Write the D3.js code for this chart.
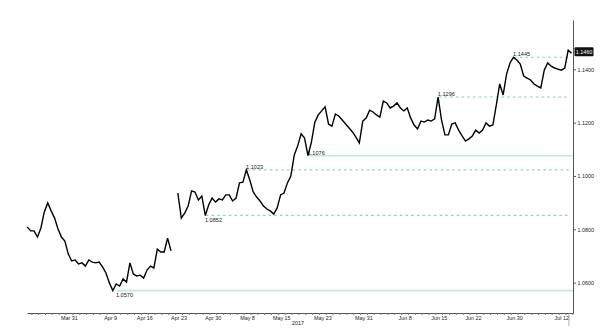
<!DOCTYPE html>
<html>
<head>
<meta charset="utf-8">
<script src="https://cdn.jsdelivr.net/npm/d3@7"></script>
<style>
body { margin: 0; background: #fff; }
svg { display: block; font-family: "Liberation Sans", Arial, sans-serif; }
</style>
</head>
<body>
<div id="chart"></div>
<script>
// EUR/USD, half-day samples on a business-day axis (weekends removed)
const seriesStart = "2017-03-23";
const startOffset = 0.4;   // business days into the first session
const stepDays = 0.5;
const prices = [
  1.0809, 1.0794, 1.0794, 1.0771, 1.0805, 1.0865, 1.0899, 1.0869, 1.0842, 1.0801,
  1.0771, 1.0756, 1.0707, 1.0681, 1.0685, 1.0670, 1.0674, 1.0662, 1.0685, 1.0677,
  1.0674, 1.0677, 1.0659, 1.0636, 1.0599, 1.0570, 1.0595, 1.0587, 1.0614, 1.0602,
  1.0674, 1.0632, 1.0625, 1.0628, 1.0617, 1.0647, 1.0662, 1.0655, 1.0726, 1.0715,
  1.0715, 1.0767, 1.0719, null,   1.0936, 1.0842, 1.0861, 1.0887, 1.0944, 1.0940,
  1.0910, 1.0925, 1.0852, 1.0891, 1.0917, 1.0902, 1.0914, 1.0910, 1.0929, 1.0929,
  1.0906, 1.0917, 1.0974, 1.0977, 1.1023, 1.0985, 1.0940, 1.0921, 1.0906, 1.0887,
  1.0876, 1.0869, 1.0857, 1.0880, 1.0929, 1.0936, 1.0974, 1.1000, 1.1079, 1.1113,
  1.1158, 1.1142, 1.1076, 1.1127, 1.1202, 1.1229, 1.1244, 1.1259, 1.1195, 1.1187,
  1.1232, 1.1225, 1.1210, 1.1195, 1.1180, 1.1165, 1.1146, 1.1124, 1.1206, 1.1217,
  1.1247, 1.1240, 1.1229, 1.1221, 1.1281, 1.1274, 1.1255, 1.1262, 1.1274, 1.1255,
  1.1244, 1.1255, 1.1217, 1.1191, 1.1176, 1.1206, 1.1202, 1.1210, 1.1206, 1.1214,
  1.1296, 1.1210, 1.1154, 1.1154, 1.1195, 1.1199, 1.1172, 1.1150, 1.1131, 1.1139,
  1.1150, 1.1172, 1.1161, 1.1172, 1.1199, 1.1187, 1.1191, 1.1266, 1.1345, 1.1304,
  1.1382, 1.1424, 1.1445, 1.1435, 1.1420, 1.1375, 1.1367, 1.1360, 1.1345, 1.1337,
  1.1330, 1.1397, 1.1424, 1.1412, 1.1405, 1.1401, 1.1397, 1.1405, 1.1472, 1.1460
];
const lastPrice = 1.1460;

// support / resistance levels and the session they start from
const levelValues = [1.0570, 1.0852, 1.1023, 1.1076, 1.1296, 1.1445];
const levelFrom = ["2017-04-11", "2017-04-28", "2017-05-08", "2017-05-19", "2017-06-15", "2017-06-30"];

const tickDates = ["2017-03-31", "2017-04-09", "2017-04-16", "2017-04-23", "2017-04-30", "2017-05-08",
  "2017-05-15", "2017-05-23", "2017-05-31", "2017-06-08", "2017-06-15", "2017-06-22", "2017-06-30", "2017-07-12"];
const tickLabels = ["Mar 31", "Apr 9", "Apr 16", "Apr 23", "Apr 30", "May 8",
  "May 15", "May 23", "May 31", "Jun 8", "Jun 15", "Jun 22", "Jun 30", "Jul 12"];
const yearLabel = "2017";
const yTicks = [1.06, 1.08, 1.10, 1.12, 1.14];
const yDomain = [1.0486, 1.1585];
const xDomainDays = [0.37, 80.1];

const width = 600, height = 328;
const plotLeft = 27, plotRight = 573, plotTop = 20, plotBottom = 313;

// business days elapsed since the series start (a weekend date maps to the next Monday)
const day0 = new Date(seriesStart + "T00:00:00Z");
function bizIndex(s) {
  const end = new Date(s + "T00:00:00Z");
  let n = 0;
  for (let d = new Date(day0); d < end; d.setUTCDate(d.getUTCDate() + 1)) {
    const w = d.getUTCDay();
    if (w !== 0 && w !== 6) n++;
  }
  return n;
}

const x = d3.scaleLinear().domain(xDomainDays).range([plotLeft, plotRight]);
const y = d3.scaleLinear().domain(yDomain).range([plotBottom, plotTop]);

const svg = d3.select('#chart').append('svg')
  .attr('width', width).attr('height', height);

// levels
const solid = new Set([1.0570, 1.1076]);
const below = new Set([1.0570, 1.0852]);
const dashColor = v => v > 1.12 ? '#7fd1ad' : '#96cfc1';
const lv = svg.append('g');
levelValues.forEach((v, i) => {
  const x0 = x(bizIndex(levelFrom[i]) + 0.5);
  const isSolid = solid.has(v);
  lv.append('line')
    .attr('x1', x0).attr('x2', isSolid ? plotRight : plotRight - 3)
    .attr('y1', y(v)).attr('y2', y(v))
    .attr('stroke', isSolid ? '#c2e9df' : dashColor(v))
    .attr('stroke-width', isSolid ? 1.6 : 1.1)
    .attr('stroke-dasharray', isSolid ? null : '2.5,3.2');
  lv.append('text')
    .attr('x', x0 - 1)
    .attr('y', below.has(v) ? y(v) + 6.5 : y(v) - 1)
    .attr('font-size', 5.6).attr('fill', '#222')
    .text(v.toFixed(4));
});

// price line
const pts = prices.map((p, k) => ({ t: startOffset + k * stepDays, p }));
const line = d3.line()
  .defined(d => d.p !== null)
  .x(d => x(d.t))
  .y(d => y(d.p));
svg.append('path')
  .datum(pts)
  .attr('fill', 'none')
  .attr('stroke', '#000')
  .attr('stroke-width', 1.4)
  .attr('stroke-linejoin', 'miter')
  .attr('d', line);

// bottom axis: daily minor ticks, then labels
const xTickPos = tickDates.map(d => bizIndex(d) + 0.5);
svg.append('g')
  .attr('transform', `translate(0,${plotBottom})`)
  .call(d3.axisBottom(x).tickValues(d3.range(1, 81)).tickSize(2).tickSizeOuter(0).tickFormat(''))
  .call(g => g.select('.domain').attr('stroke', '#555'))
  .call(g => g.selectAll('.tick line').attr('stroke', '#777'));

const xl = svg.append('g')
  .attr('transform', `translate(0,${plotBottom})`)
  .call(d3.axisBottom(x).tickValues(xTickPos).tickSize(0).tickPadding(3)
    .tickFormat((d, i) => tickLabels[i]));
xl.select('.domain').remove();
xl.selectAll('text').attr('font-size', 5.4).attr('fill', '#222')
  .attr('font-family', '"Liberation Sans", Arial, sans-serif');
xl.selectAll('.tick').each(function (d) {
  const t = d3.select(this).select('text');
  const w = this.getBBox().width;
  if (x(d) + w / 2 > plotRight) t.attr('text-anchor', 'end').attr('x', -0.5);
});

// marker under the last session
const lastT = xTickPos[xTickPos.length - 1];
svg.append('line')
  .attr('x1', x(lastT)).attr('x2', x(lastT))
  .attr('y1', plotBottom).attr('y2', plotBottom + 13)
  .attr('stroke', '#999').attr('stroke-width', 0.8);

svg.append('text')
  .attr('x', (plotLeft + plotRight) / 2 - 2).attr('y', plotBottom + 12)
  .attr('text-anchor', 'middle').attr('font-size', 5.4).attr('fill', '#222')
  .text(yearLabel);

// right axis
const ya = svg.append('g')
  .attr('transform', `translate(${plotRight},0)`)
  .call(d3.axisRight(y).tickValues(yTicks).tickSize(3).tickSizeOuter(0).tickPadding(1.5)
    .tickFormat(d3.format('.4f')));
ya.select('.domain').attr('stroke', '#555');
ya.selectAll('.tick line').attr('stroke', '#555');
ya.selectAll('text').attr('font-size', 5.4).attr('fill', '#222')
  .attr('font-family', '"Liberation Sans", Arial, sans-serif');

// last price tag
const yl = y(lastPrice) - 1.5;
svg.append('rect')
  .attr('x', plotRight + 1.5).attr('y', yl - 4.5)
  .attr('width', 19).attr('height', 9).attr('rx', 1)
  .attr('fill', '#111');
svg.append('text')
  .attr('x', plotRight + 11).attr('y', yl)
  .attr('dy', '0.35em').attr('text-anchor', 'middle')
  .attr('font-size', 5.4).attr('fill', '#fff')
  .text(lastPrice.toFixed(4));
</script>
</body>
</html>
